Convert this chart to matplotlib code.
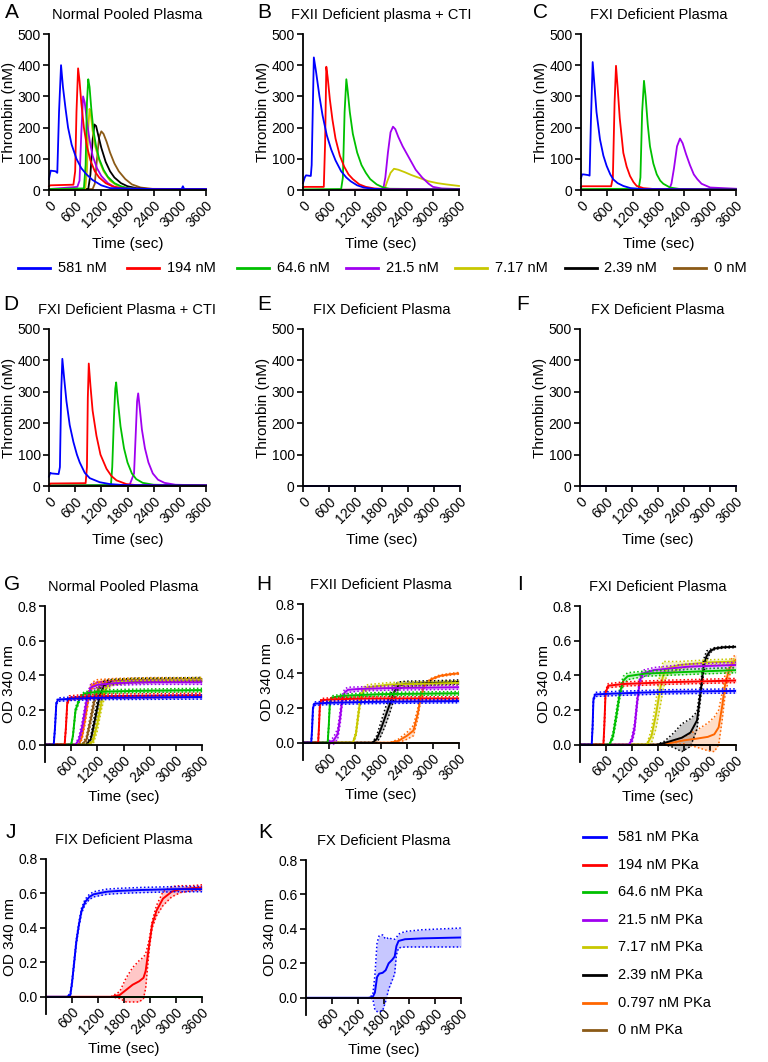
import matplotlib
matplotlib.use('Agg')
import matplotlib.pyplot as plt
from matplotlib.lines import Line2D

plt.rcParams['font.family'] = ['Liberation Sans', 'DejaVu Sans']

W, H = 768, 1062

# concentration keys (nM prekallikrein activator) and colours
conc = ['581', '194', '64.6', '21.5', '7.17', '2.39', '0.797', '0']
colors = {'581': '#0000ff', '194': '#ff0000', '64.6': '#00c000', '21.5': '#a000f0',
          '7.17': '#c8c800', '2.39': '#000000', '0.797': '#ff6600', '0': '#8b5a16'}
thr_conc = ['581', '194', '64.6', '21.5', '7.17', '2.39', '0']
thr_legend = ['581 nM', '194 nM', '64.6 nM', '21.5 nM', '7.17 nM', '2.39 nM', '0 nM']
od_legend = ['581 nM PKa', '194 nM PKa', '64.6 nM PKa', '21.5 nM PKa',
             '7.17 nM PKa', '2.39 nM PKa', '0.797 nM PKa', '0 nM PKa']

# ---- thrombin generation (nM) : time (s), value ----
thr_A = {
    '581': ([0, 20, 40, 150, 190, 230, 276, 320, 380, 437, 520, 630, 740, 860, 1000, 1200, 1400, 2400, 3040, 3070, 3100, 3600],
            [35, 50, 62, 60, 55, 250, 400, 330, 260, 200, 145, 100, 70, 50, 32, 15, 6, 3, 3, 12, 3, 3]),
    '194': ([0, 30, 560, 600, 630, 667, 700, 740, 800, 870, 950, 1050, 1150, 1300, 1450, 1600, 1800, 3600],
            [12, 15, 17, 60, 250, 390, 350, 280, 200, 140, 95, 60, 40, 22, 12, 7, 4, 3]),
    '64.6': ([0, 800, 840, 870, 900, 930, 970, 1020, 1080, 1150, 1250, 1350, 1500, 1650, 1800, 2000, 3600],
             [3, 5, 80, 280, 355, 330, 260, 190, 140, 100, 65, 42, 22, 12, 6, 3, 2]),
    '21.5': ([0, 650, 700, 740, 782, 820, 870, 930, 1000, 1100, 1200, 1350, 1500, 1700, 3600],
             [3, 10, 30, 180, 300, 280, 220, 160, 110, 70, 45, 22, 10, 4, 2]),
    '7.17': ([0, 830, 870, 900, 930, 960, 1000, 1060, 1150, 1250, 1400, 1550, 1700, 1900, 3600],
             [0, 3, 60, 200, 260, 240, 190, 140, 95, 60, 30, 15, 8, 4, 2]),
    '2.39': ([0, 900, 950, 1000, 1040, 1080, 1130, 1200, 1300, 1400, 1500, 1650, 1800, 2000, 2300, 3600],
             [0, 3, 50, 160, 210, 205, 175, 135, 90, 60, 40, 22, 12, 6, 3, 2]),
    '0': ([0, 1000, 1050, 1100, 1150, 1200, 1250, 1320, 1400, 1500, 1600, 1750, 1900, 2100, 2400, 3600],
          [0, 3, 20, 100, 170, 188, 180, 155, 120, 85, 60, 35, 18, 8, 3, 2]),
}
thr_B = {
    '581': ([0, 40, 70, 180, 200, 250, 300, 380, 450, 550, 650, 750, 880, 1000, 1100, 1250, 1400, 1600, 1900, 3600],
            [22, 40, 47, 45, 80, 425, 380, 300, 240, 175, 130, 95, 60, 40, 28, 15, 8, 4, 2, 2]),
    '194': ([0, 30, 480, 510, 538, 570, 620, 680, 750, 850, 950, 1050, 1150, 1300, 1450, 1650, 1900, 3600],
            [8, 10, 10, 150, 395, 360, 290, 225, 165, 110, 75, 50, 35, 18, 10, 5, 3, 2]),
    '64.6': ([0, 880, 920, 960, 1000, 1030, 1080, 1150, 1250, 1350, 1450, 1550, 1700, 1850, 2000, 3600],
             [2, 3, 40, 250, 355, 320, 250, 180, 120, 80, 55, 35, 18, 8, 4, 2]),
    '21.5': ([0, 1850, 1900, 1960, 2020, 2077, 2130, 2200, 2300, 2400, 2500, 2600, 2750, 2900, 3000, 3200, 3600],
             [0, 2, 40, 120, 185, 203, 195, 170, 140, 115, 90, 65, 40, 20, 10, 5, 3]),
    '7.17': ([0, 1880, 1950, 2020, 2100, 2200, 2350, 2500, 2700, 2900, 3100, 3300, 3600],
             [0, 2, 30, 55, 68, 65, 57, 48, 38, 28, 22, 18, 13]),
    '2.39': ([0, 3600], [0, 0]),
    '0': ([0, 3600], [0, 0]),
}
thr_C = {
    '581': ([0, 25, 60, 160, 200, 230, 271, 310, 360, 441, 520, 596, 680, 750, 850, 983, 1150, 1400, 3600],
            [38, 50, 50, 48, 46, 220, 410, 340, 250, 162, 110, 77, 50, 34, 22, 13, 6, 3, 2]),
    '194': ([0, 30, 700, 740, 780, 813, 850, 900, 983, 1060, 1138, 1220, 1293, 1450, 1700, 3600],
            [10, 12, 12, 40, 280, 398, 330, 230, 119, 75, 45, 25, 13, 6, 3, 2]),
    '64.6': ([0, 1340, 1380, 1420, 1463, 1500, 1550, 1602, 1680, 1760, 1840, 1912, 2067, 2300, 3600],
             [3, 4, 40, 250, 350, 300, 210, 140, 85, 50, 30, 20, 8, 3, 2]),
    '21.5': ([0, 2050, 2100, 2160, 2230, 2299, 2360, 2440, 2530, 2620, 2700, 2800, 3000, 3600],
             [1, 3, 20, 70, 140, 165, 150, 115, 80, 50, 35, 20, 8, 4]),
    '7.17': ([0, 3600], [0, 0]),
    '2.39': ([0, 3600], [0, 0]),
    '0': ([0, 3600], [0, 0]),
}
thr_D = {
    '581': ([0, 30, 60, 220, 250, 280, 306, 350, 400, 475, 560, 640, 705, 820, 935, 1164, 1400, 1700, 3600],
            [30, 42, 40, 38, 60, 300, 405, 340, 270, 194, 140, 100, 75, 42, 25, 12, 6, 3, 2]),
    '194': ([0, 30, 840, 870, 890, 912, 950, 1000, 1088, 1180, 1318, 1430, 1547, 1777, 2000, 3600],
            [2, 8, 9, 60, 280, 390, 320, 240, 160, 100, 55, 32, 18, 6, 3, 2]),
    '64.6': ([0, 1420, 1450, 1490, 1520, 1540, 1580, 1640, 1720, 1800, 1900, 2000, 2150, 2400, 3600],
             [2, 3, 60, 220, 310, 330, 270, 190, 120, 75, 40, 22, 10, 4, 2]),
    '21.5': ([0, 1850, 1950, 1990, 2020, 2045, 2080, 2130, 2200, 2280, 2380, 2500, 2650, 2900, 3600],
             [1, 4, 40, 170, 270, 295, 250, 180, 120, 75, 40, 20, 10, 4, 2]),
    '7.17': ([0, 3600], [0, 0]),
    '2.39': ([0, 3600], [0, 0]),
    '0': ([0, 3600], [0, 0]),
}
thr_E = {}
thr_F = {}

# ---- OD 340 nm clotting curves : time (s), mean, half band (SD) ----
od_G = {
    '581': ([0, 200, 230, 260, 300, 600, 1200, 3600], [0, 0, 0.1, 0.24, 0.26, 0.265, 0.27, 0.275],
            [0, 0, 0.01, 0.01, 0.01, 0.01, 0.01, 0.012]),
    '194': ([0, 450, 480, 510, 560, 800, 1500, 3600], [0, 0, 0.1, 0.24, 0.27, 0.275, 0.28, 0.285],
            [0, 0, 0.01, 0.01, 0.012, 0.012, 0.012, 0.012]),
    '64.6': ([0, 600, 640, 700, 800, 900, 1200, 2000, 3600], [0, 0, 0.05, 0.2, 0.27, 0.295, 0.305, 0.31, 0.315],
             [0, 0, 0.01, 0.015, 0.012, 0.01, 0.01, 0.01, 0.01]),
    '21.5': ([0, 700, 780, 850, 950, 1050, 1200, 1600, 2400, 3600], [0, 0, 0.03, 0.1, 0.25, 0.33, 0.345, 0.355, 0.36, 0.36],
             [0, 0, 0.02, 0.03, 0.03, 0.02, 0.015, 0.012, 0.012, 0.012]),
    '7.17': ([0, 1000, 1100, 1200, 1300, 1400, 1550, 2000, 3600], [0, 0, 0.02, 0.12, 0.25, 0.33, 0.36, 0.37, 0.375],
             [0, 0, 0.02, 0.04, 0.04, 0.025, 0.015, 0.012, 0.012]),
    '2.39': ([0, 950, 1050, 1150, 1250, 1350, 1500, 2000, 3600], [0, 0, 0.03, 0.15, 0.28, 0.34, 0.36, 0.37, 0.375],
             [0, 0, 0.02, 0.04, 0.04, 0.025, 0.015, 0.012, 0.012]),
    '0.797': ([0, 780, 850, 920, 1000, 1080, 1200, 1600, 2400, 3600], [0, 0, 0.05, 0.15, 0.28, 0.34, 0.36, 0.37, 0.375, 0.375],
              [0, 0, 0.02, 0.03, 0.03, 0.02, 0.015, 0.012, 0.012, 0.012]),
    '0': ([0, 850, 950, 1050, 1150, 1250, 1400, 2000, 3600], [0, 0, 0.03, 0.15, 0.28, 0.34, 0.36, 0.37, 0.375],
          [0, 0, 0.02, 0.03, 0.03, 0.02, 0.015, 0.012, 0.012]),
}
od_H = {
    '581': ([0, 190, 210, 230, 260, 600, 1500, 3600], [0, 0, 0.08, 0.2, 0.225, 0.23, 0.235, 0.24],
            [0, 0, 0.01, 0.01, 0.01, 0.01, 0.01, 0.01]),
    '194': ([0, 350, 370, 390, 420, 700, 1500, 3600], [0, 0, 0.1, 0.22, 0.245, 0.25, 0.255, 0.255],
            [0, 0, 0.01, 0.01, 0.01, 0.01, 0.01, 0.01]),
    '64.6': ([0, 570, 595, 620, 660, 900, 1800, 3600], [0, 0, 0.1, 0.23, 0.26, 0.27, 0.28, 0.285],
             [0, 0, 0.01, 0.01, 0.01, 0.01, 0.01, 0.01]),
    '21.5': ([0, 560, 700, 800, 860, 900, 960, 1040, 1300, 2000, 3600], [0, 0, 0.01, 0.05, 0.15, 0.24, 0.29, 0.305, 0.31, 0.315, 0.32],
             [0, 0, 0.02, 0.03, 0.04, 0.03, 0.02, 0.015, 0.012, 0.012, 0.012]),
    '7.17': ([0, 1150, 1220, 1280, 1330, 1390, 1500, 2000, 3600], [0, 0, 0.05, 0.17, 0.26, 0.3, 0.32, 0.335, 0.345],
             [0, 0, 0.02, 0.03, 0.03, 0.02, 0.015, 0.012, 0.012]),
    '2.39': ([0, 1600, 1700, 1800, 1900, 2000, 2100, 2200, 2400, 3000, 3600], [0, 0, 0.02, 0.08, 0.15, 0.22, 0.29, 0.33, 0.34, 0.345, 0.35],
             [0, 0, 0.02, 0.04, 0.05, 0.05, 0.04, 0.02, 0.015, 0.012, 0.012]),
    '0.797': ([0, 2000, 2200, 2400, 2550, 2650, 2720, 2800, 2950, 3150, 3400, 3600], [0, 0, 0.01, 0.04, 0.07, 0.17, 0.27, 0.33, 0.365, 0.385, 0.395, 0.40],
              [0, 0, 0.01, 0.02, 0.03, 0.03, 0.02, 0.01, 0.005, 0.005, 0.005, 0.005]),
    '0': ([0, 3600], [0, 0], [0, 0]),
}
od_I = {
    '581': ([0, 270, 290, 310, 350, 800, 2000, 3600], [0, 0, 0.1, 0.26, 0.29, 0.295, 0.305, 0.31],
            [0, 0, 0.01, 0.01, 0.012, 0.012, 0.012, 0.012]),
    '194': ([0, 540, 560, 590, 650, 1000, 2000, 3600], [0, 0, 0.1, 0.3, 0.34, 0.35, 0.36, 0.37],
            [0, 0, 0.01, 0.012, 0.012, 0.012, 0.012, 0.012]),
    '64.6': ([0, 680, 760, 840, 920, 1000, 1100, 1500, 2500, 3600], [0, 0, 0.05, 0.17, 0.3, 0.37, 0.395, 0.41, 0.42, 0.43],
             [0, 0, 0.02, 0.03, 0.03, 0.025, 0.02, 0.015, 0.015, 0.015]),
    '21.5': ([0, 1130, 1200, 1260, 1320, 1380, 1450, 1700, 2500, 3600], [0, 0, 0.03, 0.1, 0.25, 0.37, 0.41, 0.43, 0.45, 0.46],
             [0, 0, 0.02, 0.03, 0.03, 0.025, 0.02, 0.015, 0.015, 0.015]),
    '7.17': ([0, 1540, 1650, 1750, 1850, 1920, 2000, 2300, 3000, 3600], [0, 0, 0.05, 0.17, 0.32, 0.4, 0.44, 0.46, 0.475, 0.48],
             [0, 0, 0.04, 0.08, 0.1, 0.08, 0.04, 0.02, 0.015, 0.015]),
    '2.39': ([0, 1770, 1950, 2150, 2350, 2550, 2700, 2780, 2850, 2920, 3000, 3110, 3300, 3600],
             [0, 0, 0.01, 0.025, 0.04, 0.07, 0.14, 0.3, 0.45, 0.51, 0.54, 0.555, 0.562, 0.565],
             [0, 0, 0.01, 0.04, 0.08, 0.08, 0.05, 0.04, 0.04, 0.03, 0.01, 0.005, 0.005, 0.005]),
    '0.797': ([0, 1850, 2100, 2400, 2700, 2950, 3100, 3200, 3280, 3350, 3450, 3550, 3600],
              [0, 0, 0.01, 0.025, 0.035, 0.045, 0.06, 0.1, 0.22, 0.35, 0.44, 0.48, 0.49],
              [0, 0, 0.01, 0.02, 0.05, 0.08, 0.1, 0.1, 0.08, 0.06, 0.04, 0.03, 0.03]),
    '0': ([0, 3600], [0, 0], [0, 0]),
}
od_J = {
    '581': ([0, 480, 560, 600, 650, 700, 760, 820, 900, 1000, 1100, 1200, 1400, 1700, 2200, 3000, 3600],
            [0, 0, 0.01, 0.08, 0.2, 0.32, 0.42, 0.5, 0.55, 0.58, 0.595, 0.6, 0.61, 0.615, 0.62, 0.625, 0.625],
            [0, 0, 0.01, 0.015, 0.015, 0.015, 0.015, 0.015, 0.015, 0.015, 0.015, 0.015, 0.015, 0.015, 0.015, 0.015, 0.015]),
    '194': ([0, 1500, 1700, 1850, 2000, 2150, 2250, 2300, 2380, 2450, 2550, 2700, 2900, 3100, 3350, 3600],
            [0, 0, 0.01, 0.04, 0.07, 0.09, 0.11, 0.15, 0.3, 0.42, 0.5, 0.57, 0.61, 0.625, 0.63, 0.635],
            [0, 0, 0.02, 0.07, 0.1, 0.12, 0.12, 0.1, 0.03, 0.02, 0.03, 0.04, 0.03, 0.02, 0.015, 0.015]),
    '64.6': ([0, 3600], [0, 0], [0, 0]),
}
od_K = {
    '581': ([0, 1450, 1550, 1600, 1650, 1700, 1780, 1850, 1920, 2000, 2060, 2100, 2150, 2300, 2700, 3600],
            [0, 0, 0.005, 0.03, 0.12, 0.14, 0.145, 0.16, 0.2, 0.22, 0.24, 0.3, 0.33, 0.34, 0.345, 0.35],
            [0, 0, 0.01, 0.1, 0.2, 0.22, 0.22, 0.18, 0.15, 0.12, 0.1, 0.05, 0.04, 0.045, 0.05, 0.055]),
    '194': ([0, 3600], [0, 0], [0, 0]),
}

fig = plt.figure(figsize=(W / 100, H / 100), dpi=100)


def px_axes(x0, x1, y0, y1):
    return fig.add_axes([x0 / W, 1 - y1 / H, (x1 - x0) / W, (y1 - y0) / H])


def style(ax):
    for s in ['top', 'right']:
        ax.spines[s].set_visible(False)
    for s in ['left', 'bottom']:
        ax.spines[s].set_linewidth(1.3)
    ax.tick_params(direction='out', length=4, width=1.2, labelsize=10, pad=2)
    ax.set_xlim(0, 3600)
    for lab in ax.get_xticklabels():
        lab.set_rotation(45)
        lab.set_ha('right')
        lab.set_rotation_mode('anchor')
    ax.set_xlabel('Time (sec)', fontsize=11, labelpad=5)


def thrombin_panel(box, title, data):
    ax = px_axes(*box)
    for key in reversed(thr_conc):
        t, y = data.get(key, ([0, 3600], [0, 0]))
        ax.plot(t, y, color=colors[key], lw=1.3, clip_on=False)
    ax.set_ylim(0, 500)
    ax.set_yticks([0, 100, 200, 300, 400, 500])
    ax.set_xticks(range(0, 3601, 600))
    ax.set_ylabel('Thrombin (nM)', fontsize=11, labelpad=1)
    ax.set_title(title, fontsize=10.5, pad=11)
    style(ax)
    return ax


def od_panel(box, title, data):
    ax = px_axes(*box)
    for key in reversed(conc):
        if key not in data:
            continue
        t, y, e = data[key]
        lo = [a - b for a, b in zip(y, e)]
        hi = [a + b for a, b in zip(y, e)]
        c = colors[key]
        ax.fill_between(t, lo, hi, color=c, alpha=0.22, lw=0)
        ax.plot(t, hi, color=c, lw=1.1, ls=(0, (1, 1.5)))
        ax.plot(t, lo, color=c, lw=1.1, ls=(0, (1, 1.5)))
        ax.plot(t, y, color=c, lw=1.4)
    ax.set_ylim(-0.1, 0.8)
    ax.set_yticks([0, 0.2, 0.4, 0.6, 0.8])
    ax.set_yticklabels(['0.0', '0.2', '0.4', '0.6', '0.8'])
    ax.set_xticks(range(600, 3601, 600))
    ax.spines['bottom'].set_position(('data', 0))
    ax.set_ylabel('OD 340 nm', fontsize=11, labelpad=1)
    ax.set_title(title, fontsize=10.5, pad=11)
    style(ax)
    ax.xaxis.set_label_coords(0.5, -0.18)
    return ax


thrombin_panel((49, 206, 34, 190), 'Normal Pooled Plasma', thr_A)
thrombin_panel((303, 459, 34, 190), 'FXII Deficient plasma + CTI', thr_B)
thrombin_panel((581, 736, 34, 190), 'FXI Deficient Plasma', thr_C)
thrombin_panel((49, 206, 329, 486), 'FXI Deficient Plasma + CTI', thr_D)
thrombin_panel((303, 460, 329, 486), 'FIX Deficient Plasma', thr_E)
thrombin_panel((580, 736, 329, 486), 'FX Deficient Plasma', thr_F)

od_panel((45, 202, 606, 762), 'Normal Pooled Plasma', od_G)
od_panel((303, 459, 604, 760), 'FXII Deficient Plasma', od_H)
od_panel((580, 736, 606, 762), 'FXI Deficient Plasma', od_I)
od_panel((46, 202, 859, 1014), 'FIX Deficient Plasma', od_J)
od_panel((306, 461, 860, 1015), 'FX Deficient Plasma', od_K)

# panel letters
letters = [('A', 12, 12), ('B', 264, 12), ('C', 540, 12),
           ('D', 11, 305), ('E', 264, 305), ('F', 523, 305),
           ('G', 12, 585), ('H', 264, 585), ('I', 520, 585),
           ('J', 11, 833), ('K', 265, 833)]
for s, x, y in letters:
    fig.text(x / W, 1 - y / H, s, fontsize=15, ha='center', va='center')

# legend row under panels A-C
for i, (key, lab) in enumerate(zip(thr_conc, thr_legend)):
    x0 = 18 + i * 109.3
    y0 = 1 - 268 / H
    fig.add_artist(Line2D([x0 / W, (x0 + 32) / W], [y0, y0], color=colors[key], lw=2))
    fig.text((x0 + 40) / W, y0, lab, fontsize=10.5, va='center', ha='left')

# legend for OD panels
for i, (key, lab) in enumerate(zip(conc, od_legend)):
    y0 = 1 - (837 + i * 27.6) / H
    fig.add_artist(Line2D([583 / W, 606 / W], [y0, y0], color=colors[key], lw=2))
    fig.text(618 / W, y0, lab, fontsize=10.5, va='center', ha='left')

fig.savefig('out.png', dpi=100)
